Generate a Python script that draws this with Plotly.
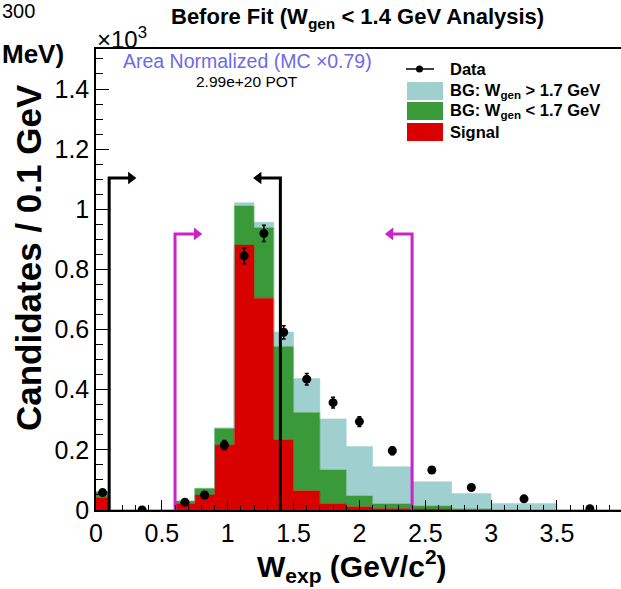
import plotly.graph_objects as go

# Binning of the reconstructed W (GeV/c^2)
bin_edges = [0.0, 0.1, 0.6, 0.75, 0.9, 1.05, 1.2, 1.35, 1.5, 1.7, 1.9, 2.1, 2.4, 2.7, 3.0, 3.5, 4.0]

# Stacked MC components (candidates per bin)
signal = [40, 0, 20, 50, 216, 881, 704, 234, 64, 22, 11, 5, 3, 1, 0, 0]
bg_low = [20, 0, 10, 22, 56, 130, 235, 310, 260, 111, 36, 15, 10, 3, 1, 0]
bg_high = [2, 0, 0, 0, 0, 11, 18, 48, 113, 170, 164, 124, 81, 51, 21, 0]

# Data points
data_x = [0.05, 0.35, 0.675, 0.825, 0.975, 1.125, 1.275, 1.425, 1.6, 1.8, 2.0, 2.25, 2.55, 2.85, 3.25, 3.75]
data_y = [58, 0, 26, 50, 216, 845, 920, 591, 435, 357, 294, 197, 133, 75, 37, 4]
data_err = [8, 0, 5, 7, 15, 26, 27, 22, 19, 18, 16, 13, 11, 8, 6, 2]

# Selection cuts: (position, height, direction)
black_cuts = [(0.1, 1104, 1), (1.4, 1104, -1)]
magenta_cuts = [(0.6, 918, 1), (2.4, 918, -1)]
arrow_len = 0.2

C_SIG = "#d90000"
C_LOW = "#3a9a3a"
C_HIGH = "#9fcfcf"
C_MAG = "#cc22cc"
FONT = "Liberation Sans, Arial, sans-serif"

# plot-area geometry in pixels
W, H = 621, 589
L, T, B = 96, 49, 79
PW, PH = W - L, H - T - B
XMAX = PW / 131.7
YMAX = 1.533


def px(x):
    return (x - L) / PW


def py(y):
    return (H - B - y) / PH


def step(vals):
    xs = list(bin_edges)
    ys = [v / 1000 for v in vals] + [vals[-1] / 1000]
    return xs, ys


cum_low = [s + g for s, g in zip(signal, bg_low)]
cum_high = [c + h for c, h in zip(cum_low, bg_high)]

fig = go.Figure()
for vals, col, fill in [(signal, C_SIG, "tozeroy"), (cum_low, C_LOW, "tonexty"), (cum_high, C_HIGH, "tonexty")]:
    xs, ys = step(vals)
    fig.add_trace(go.Scatter(x=xs, y=ys, mode="lines", line=dict(shape="hv", width=0.5, color=col),
                             fill=fill, fillcolor=col, hoverinfo="skip", showlegend=False))

# cut lines with arrows
for cuts, col in [(black_cuts, "black"), (magenta_cuts, C_MAG)]:
    for xc, h, d in cuts:
        tip = xc + d * arrow_len
        fig.add_trace(go.Scatter(x=[xc, xc, tip - d * 0.03], y=[0, h / 1000, h / 1000], mode="lines",
                                 line=dict(color=col, width=3), hoverinfo="skip", showlegend=False))
        fig.add_trace(go.Scatter(x=[tip - d * 0.035], y=[h / 1000], mode="markers",
                                 marker=dict(symbol="triangle-right" if d > 0 else "triangle-left",
                                             size=11, color=col, line=dict(width=0)),
                                 hoverinfo="skip", showlegend=False))

fig.add_trace(go.Scatter(x=data_x, y=[v / 1000 for v in data_y], mode="markers",
                         marker=dict(symbol="circle", size=9, color="black"),
                         error_y=dict(type="data", array=[e / 1000 for e in data_err], color="black",
                                      thickness=1.5, width=2),
                         hoverinfo="skip", showlegend=False))

annotations = [
    dict(x=px(357), y=py(18), text="<b>Before Fit (W<sub>gen</sub> < 1.4 GeV Analysis)</b>",
         font=dict(size=22)),
    dict(x=px(95), y=py(38), text="×10<sup>3</sup>", font=dict(size=24), xanchor="left"),
    dict(x=px(121), y=py(61), text="Area Normalized (MC ×0.79)", font=dict(size=19.5, color="#6b6be6"),
         xanchor="left"),
    dict(x=px(194), y=py(82), text="2.99e+20 POT", font=dict(size=15.5), xanchor="left"),
    dict(x=px(28), y=py(258), text="<b>Candidates / 0.1 GeV</b>", font=dict(size=35), textangle=-90),
    dict(x=px(352), y=py(566), text="<b>W<sub>exp</sub> (GeV/c<sup>2</sup>)</b>", font=dict(size=30)),
    dict(x=px(0), y=py(11), text="300", font=dict(size=20), xanchor="left"),
    dict(x=px(0), y=py(54), text="<b>MeV)</b>", font=dict(size=26), xanchor="left"),
]

# legend
shapes = []
leg = [("Data", None, 69), ("BG: W<sub>gen</sub> > 1.7 GeV", C_HIGH, 91),
       ("BG: W<sub>gen</sub> < 1.7 GeV", C_LOW, 111), ("Signal", C_SIG, 132)]
for label, col, yc in leg:
    if col is None:
        shapes.append(dict(type="line", xref="paper", yref="paper", x0=px(406), x1=px(434),
                           y0=py(yc), y1=py(yc), line=dict(color="black", width=1.5)))
        shapes.append(dict(type="circle", xref="paper", yref="paper", x0=px(416), x1=px(423),
                           y0=py(yc + 3.5), y1=py(yc - 3.5), fillcolor="black", line=dict(width=0)))
    else:
        shapes.append(dict(type="rect", xref="paper", yref="paper", x0=px(407), x1=px(443),
                           y0=py(yc + 9), y1=py(yc - 9), fillcolor=col, line=dict(width=0)))
    annotations.append(dict(x=px(448), y=py(yc), text="<b>" + label + "</b>", font=dict(size=16.5),
                            xanchor="left"))

for a in annotations:
    a.update(xref="paper", yref="paper", showarrow=False)
    a.setdefault("xanchor", "center")
    a["yanchor"] = "middle"

fig.update_layout(
    width=W, height=H, margin=dict(l=L, r=0, t=T, b=B),
    paper_bgcolor="white", plot_bgcolor="white",
    font=dict(family=FONT, color="black"),
    annotations=annotations, shapes=shapes, showlegend=False,
    xaxis=dict(range=[0, XMAX], tickvals=[0, 0.5, 1, 1.5, 2, 2.5, 3, 3.5, 4],
               ticktext=["0", "0.5", "1", "1.5", "2", "2.5", "3", "3.5", "4"],
               ticks="inside", ticklen=10, tickwidth=1.2, tickcolor="black",
               minor=dict(dtick=0.1, ticks="inside", ticklen=5, tickcolor="black"),
               showline=True, linecolor="black", linewidth=1.5, mirror=True,
               showgrid=False, zeroline=False, tickfont=dict(size=25)),
    yaxis=dict(range=[0, YMAX], tickvals=[0, 0.2, 0.4, 0.6, 0.8, 1.0, 1.2, 1.4],
               ticktext=["0", "0.2", "0.4", "0.6", "0.8", "1", "1.2", "1.4"],
               ticks="inside", ticklen=13, tickwidth=1.2, tickcolor="black",
               minor=dict(dtick=0.05, ticks="inside", ticklen=7, tickcolor="black"),
               showline=True, linecolor="black", linewidth=1.5,
               showgrid=False, zeroline=False, tickfont=dict(size=25)),
)

fig.write_html("out.html")
